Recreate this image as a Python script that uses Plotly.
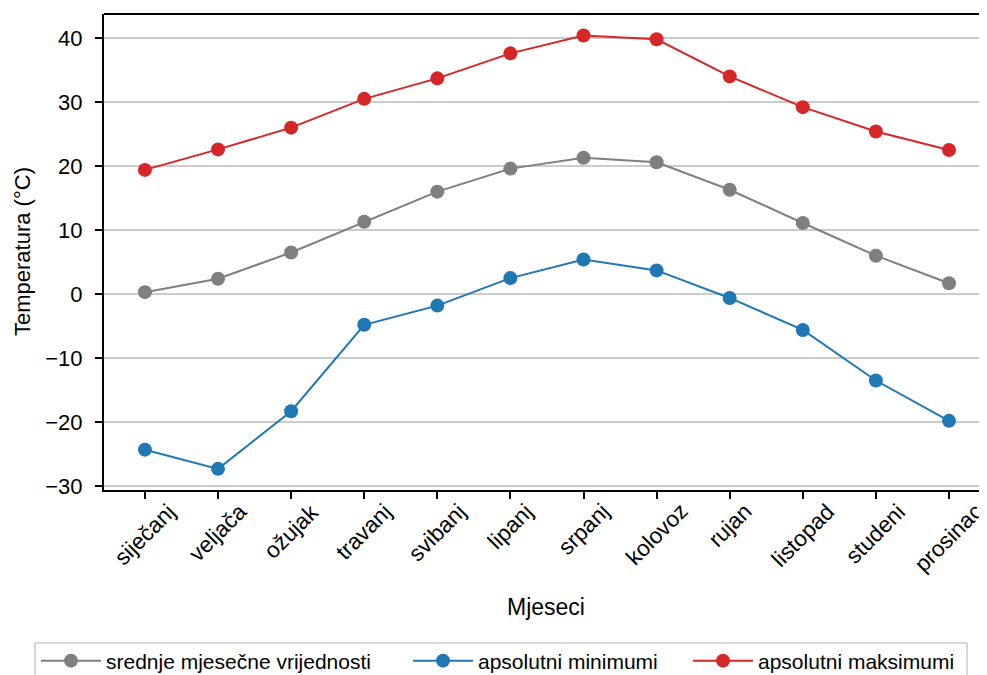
import plotly.graph_objects as go

months = ["siječanj", "veljača", "ožujak", "travanj", "svibanj", "lipanj",
          "srpanj", "kolovoz", "rujan", "listopad", "studeni", "prosinac"]
mean_vals = [0.3, 2.4, 6.5, 11.3, 16.0, 19.6, 21.3, 20.6, 16.3, 11.1, 6.0, 1.7]
min_vals = [-24.3, -27.3, -18.3, -4.8, -1.8, 2.5, 5.4, 3.7, -0.6, -5.6, -13.5, -19.8]
max_vals = [19.4, 22.6, 26.0, 30.5, 33.7, 37.6, 40.4, 39.8, 34.0, 29.2, 25.4, 22.5]
y_ticks = [-30, -20, -10, 0, 10, 20, 30, 40]
x_title = "Mjeseci"
y_title = "Temperatura (°C)"

series = [
    ("srednje mjesečne vrijednosti", mean_vals, "#7f7f7f"),
    ("apsolutni minimumi", min_vals, "#1f77b4"),
    ("apsolutni maksimumi", max_vals, "#d62728"),
]

# page has an 8px body margin: figure is sized to fill the rest of the window
OFF = 8
W, H = 987 - OFF, 675 - OFF
L, T = 104 - OFF, 14 - OFF
R = 0
B = H - (490 - OFF)
pw, ph = W - L - R, H - T - B

def px_x(p):  # window pixel -> paper x
    return (p - OFF - L) / pw

def px_y(p):  # window pixel -> paper y
    return (H - B - (p - OFF)) / ph

font = "Liberation Sans, Arial, sans-serif"
fig = go.Figure()
x_idx = list(range(len(months)))
legend_names = ["legend", "legend2", "legend3"]
legend_x = [36, 408, 688]  # window px
for (name, vals, color), lg in zip(series, legend_names):
    fig.add_trace(go.Scatter(
        x=x_idx, y=vals, name=name, mode="lines+markers",
        line=dict(color=color, width=2),
        marker=dict(color=color, size=14),
        legend=lg,
    ))

leg_common = dict(orientation="h", xref="container", yref="container",
                  xanchor="left", yanchor="middle", y=(675 - 661) / H,
                  bgcolor="rgba(0,0,0,0)", borderwidth=0,
                  font=dict(size=21, family=font), itemwidth=60)
layout_legends = {lg: dict(leg_common, x=(lx - OFF) / W) for lg, lx in zip(legend_names, legend_x)}

fig.update_layout(
    width=W, height=H,
    margin=dict(l=L, r=R, t=T, b=B, autoexpand=False),
    plot_bgcolor="white", paper_bgcolor="white",
    font=dict(family=font, size=21, color="black"),
    showlegend=True,
    **layout_legends,
)
fig.update_xaxes(
    range=[-0.56, 11.52], tickmode="array", tickvals=x_idx, showticklabels=False,
    ticks="outside", ticklen=7, tickwidth=2, tickcolor="black",
    showline=True, linecolor="black", linewidth=2,
    showgrid=False, zeroline=False, automargin=False,
)
fig.update_yaxes(
    range=[-30.6, 43.75], tickmode="array", tickvals=y_ticks,
    ticktext=[("\u2212" + str(-v)) if v < 0 else str(v) for v in y_ticks],
    ticks="outside", ticklen=7, tickwidth=2, tickcolor="black",
    showline=True, linecolor="black", linewidth=2,
    showgrid=True, gridcolor="#cccccc", gridwidth=1.5, zeroline=False,
    tickfont=dict(size=22), automargin=False, ticklabelstandoff=8,
)
# rotated month labels (centered under ticks)
for i, m in enumerate(months):
    fig.add_annotation(x=i, xref="x", y=px_y(496), yref="paper",
                       text=m, textangle=-45, showarrow=False,
                       xanchor="center", yanchor="top",
                       font=dict(size=22.5, family=font, color="black"))
# axis titles
fig.add_annotation(x=0.5, xref="paper", y=px_y(607), yref="paper", text=x_title,
                   showarrow=False, xanchor="center", yanchor="middle",
                   font=dict(size=23, family=font, color="black"))
fig.add_annotation(x=px_x(22), xref="paper", y=px_y(252), yref="paper", text=y_title,
                   textangle=-90, showarrow=False, xanchor="center", yanchor="middle",
                   font=dict(size=22, family=font, color="black"))
# top spine
fig.add_shape(type="line", xref="paper", yref="paper", x0=0, x1=1, y0=1, y1=1,
              line=dict(color="black", width=2))
# legend frame
fig.add_shape(type="rect", xref="paper", yref="paper",
              x0=px_x(35), x1=px_x(967), y0=px_y(643), y1=px_y(690),
              line=dict(color="#cccccc", width=1.5), fillcolor="rgba(0,0,0,0)")

fig.write_html("out.html")
